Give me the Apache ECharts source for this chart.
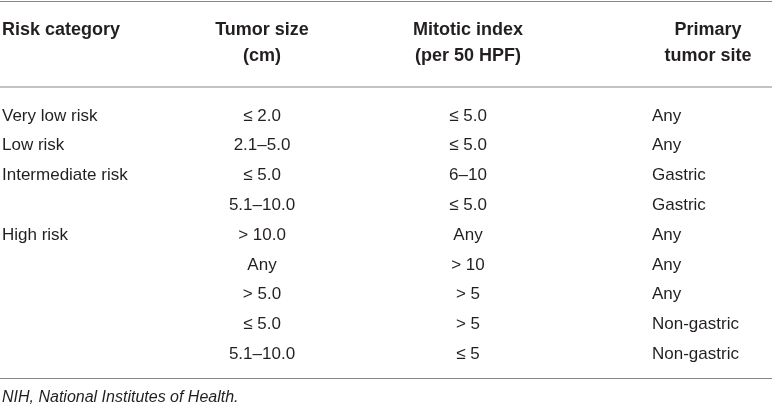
<!DOCTYPE html>
<html>
<head>
<meta charset="utf-8">
<script src="https://cdn.jsdelivr.net/npm/echarts@6/dist/echarts.min.js"></script>
<style>html,body{margin:0;background:#fff}#main{width:772px;height:411px}</style>
</head>
<body>
<div id="main"></div>
<script>
// table contents
const headers = [["Risk category"], ["Tumor size", "(cm)"], ["Mitotic index", "(per 50 HPF)"], ["Primary", "tumor site"]];
const riskCol = ["Very low risk", "Low risk", "Intermediate risk", "", "High risk", "", "", "", ""];
const sizeCol = ["≤ 2.0", "2.1–5.0", "≤ 5.0", "5.1–10.0", "> 10.0", "Any", "> 5.0", "≤ 5.0", "5.1–10.0"];
const mitoticCol = ["≤ 5.0", "≤ 5.0", "6–10", "≤ 5.0", "Any", "> 10", "> 5", "> 5", "≤ 5"];
const siteCol = ["Any", "Any", "Gastric", "Gastric", "Any", "Any", "Any", "Non-gastric", "Non-gastric"];
const footnote = "NIH, National Institutes of Health.";

const font = "'Liberation Sans Narrow', 'Liberation Sans', Arial, sans-serif";
const color = "#231f20";
const rowY0 = 116, rowH = 29.8;
const headX = [2, 262, 468, 708];
const headAlign = ["left", "center", "center", "center"];

const els = [];
function line(y) {
  els.push({ type: "line", shape: { x1: 0, y1: y, x2: 772, y2: y }, style: { stroke: "#888", lineWidth: 1.2 } });
}
function txt(x, y, s, align, opts) {
  els.push({ type: "text", x: x, y: y, style: Object.assign({
    text: s, fill: color, font: "17px " + font, textAlign: align, textVerticalAlign: "middle"
  }, opts || {}) });
}
line(1.5); line(87); line(378.5);
headers.forEach((h, i) => {
  h.forEach((s, j) => txt(headX[i], 30 + j * 26, s, headAlign[i], { font: "bold 18px " + font }));
});
riskCol.forEach((s, r) => {
  const y = rowY0 + r * rowH;
  txt(2, y, s, "left");
  txt(262, y, sizeCol[r], "center");
  txt(468, y, mitoticCol[r], "center");
  txt(652, y, siteCol[r], "left");
});
txt(2, 398, footnote, "left", { font: "italic 16px " + font });

const chart = echarts.init(document.getElementById("main"));
chart.setOption({ animation: false, graphic: { elements: els } });
</script>
</body>
</html>
